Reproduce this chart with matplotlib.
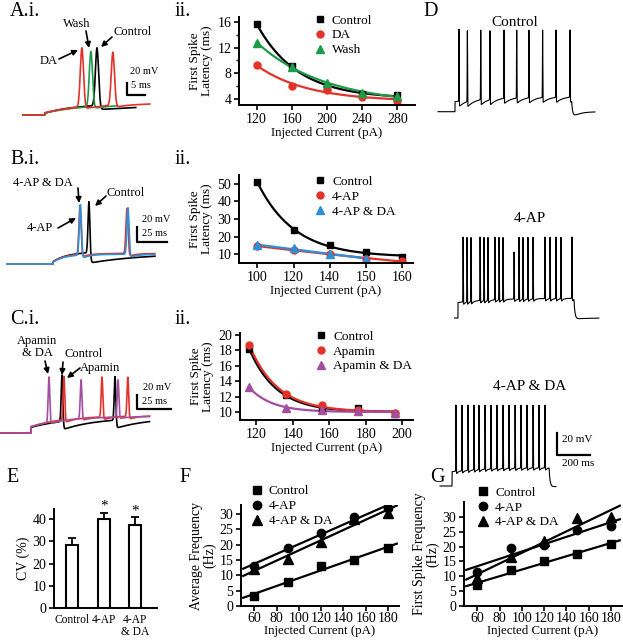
import numpy as np
import matplotlib
matplotlib.use("Agg")
import matplotlib.pyplot as plt

W, H = 623, 640
plt.rcParams['font.family'] = ['Liberation Serif', 'DejaVu Serif']

# ---- panel A.ii : first spike latency (ms) vs injected current (pA)
a_current = [120, 160, 200, 240, 280]
a_control = [15.7, 9.1, 5.9, 4.8, 4.5]
a_da = [9.3, 6.0, 5.4, 4.3, 3.7]
a_wash = [12.8, 9.0, 6.5, 4.9, 4.4]

# ---- panel B.ii (x axis labelled at evenly spaced positions)
b_labels = ['100', '120', '140', '150', '160']
b_control = [51, 23.5, 15.5, 11, 8.5]
b_4ap = [14.5, 12.5, 10, 7.5, 6]
b_4ap_da = [15, 13.5, 10, 7.5]

# ---- panel C.ii
c_current = [116, 136, 156, 176, 196]
c_control = [18.2, 12.2, 10.4, 10.6, 9.8]
c_apamin = [18.7, 12.3, 10.9, 10.3, 9.9]
c_apamin_da = [13.2, 10.6, 10.3, 10.1, 9.9]

# ---- panel E : CV (%)
e_labels = ['Control', '4-AP', '4-AP\n& DA']
e_cv = [28.5, 40, 37.5]
e_err = [3, 3, 3.3]

# ---- panels F and G : frequency (Hz) vs injected current (pA)
fg_current = [60, 90, 120, 150, 180]
f_control = [3.3, 8, 13, 15, 19]
f_4ap = [13, 19, 24, 29, 32]
f_4ap_da = [12, 15.5, 21, 28.5, 30.5]
g_control = [7, 12, 15, 17.5, 21]
g_4ap = [11.5, 19.5, 20.5, 25.5, 27]
g_4ap_da = [9.5, 16.5, 22, 29.5, 30]

# ---- example traces: spike times (ms) and peaks (mV)
ai_control_spikes, ai_control_peaks = [21.4], [42]
ai_da_spikes, ai_da_peaks = [17.2, 25.8], [42, 35]
ai_wash_spikes, ai_wash_peaks = [19.7], [36]

bi_control_spikes, bi_control_peaks = [70], [13]
bi_4ap_spikes, bi_4ap_peaks = [62.5, 101.7], [8, 4]
bi_4ap_da_spikes, bi_4ap_da_peaks = [62.8, 102.5], [9, 5]

ci_control_spikes, ci_control_peaks = [45.6, 84.6], [13, 13]
ci_apamin_spikes, ci_apamin_peaks = [47, 75, 94], [11, 10, 10]
ci_apamin_da_spikes, ci_apamin_da_peaks = [36, 59.6, 86.8], [10, 6, 6]

d_control_spikes = [127, 178, 259, 315, 400, 477, 551, 634, 715, 800]
d_4ap_spikes = [152, 176, 200, 255, 279, 303, 345, 370, 394, 461, 491, 515,
                545, 576, 648, 679, 715, 745, 812]
d_4ap_da_spikes = [97, 133, 170, 206, 236, 273, 309, 345, 382, 418, 455, 491,
                   527, 564, 600, 636]

RED = '#e2332a'
GREEN = '#1d9b4a'
BLUE = '#2f8fd6'
PURPLE = '#a24fa0'

fig = plt.figure(figsize=(W / 100, H / 100), dpi=100)


def px_axes(x0, y0, x1, y1):
    """Axes placed by pixel box (top-left origin)."""
    return fig.add_axes([x0 / W, 1 - y1 / H, (x1 - x0) / W, (y1 - y0) / H])


def trace_axes(rect, x_t0, px_ms, y_v70, px_mv):
    x0, y0, x1, y1 = rect
    ax = px_axes(*rect)
    ax.set_xlim((x0 - x_t0) / px_ms, (x1 - x_t0) / px_ms)
    ax.set_ylim(-70 + (y_v70 - y1) / px_mv, -70 + (y_v70 - y0) / px_mv)
    ax.axis('off')
    return ax


def make_trace(t, t_on, t_off, v_hold, v_ramp, tau, spikes, peaks, width, ahp, ahp_tau):
    base = np.full(t.shape, -70.0)
    on = (t >= t_on) & (t < t_off)
    base[on] = v_hold + (v_ramp - v_hold) * (1 - np.exp(-(t[on] - t_on) / tau))
    off = t >= t_off
    if off.any():
        v_last = v_hold + (v_ramp - v_hold) * (1 - np.exp(-(t_off - t_on) / tau))
        d = t[off] - t_off
        base[off] = -70 + (v_last + 70) * np.exp(-d / 6) - 1.0 * (1 - np.exp(-d / 6)) * np.exp(-d / 60)
    v = base.copy()
    for s, p in zip(spikes, peaks):
        b = np.interp(s, t, base)
        v += (p - b) * np.exp(-0.5 * ((t - s) / width) ** 2)
        d = t - s
        post = d > 0
        v[post] -= ahp * (1 - np.exp(-d[post] / width)) * np.exp(-d[post] / ahp_tau)
    return v


def exp_fit(x, y, xs):
    x = np.asarray(x, float)
    y = np.asarray(y, float)
    span = x.max() - x.min()
    best = (np.inf, None, None)
    for tau in np.geomspace(0.02, 50, 600) * span:
        A = np.column_stack([np.exp(-(x - x[0]) / tau), np.ones_like(x)])
        coef = np.linalg.lstsq(A, y, rcond=None)[0]
        err = np.sum((A @ coef - y) ** 2)
        if err < best[0]:
            best = (err, tau, coef)
    _, tau, coef = best
    return coef[0] * np.exp(-(xs - x[0]) / tau) + coef[1]


def style(ax):
    for s in ['top', 'right']:
        ax.spines[s].set_visible(False)
    for s in ['left', 'bottom']:
        ax.spines[s].set_linewidth(1.4)
    ax.tick_params(width=1.2, length=3.5, labelsize=10, pad=2)
    ax.tick_params(which='minor', width=1.0, length=2)


def legend(ax, x, y):
    ax.legend(loc='upper left', bbox_to_anchor=(x, y), frameon=False, fontsize=9.5,
              handlelength=0.8, handletextpad=0.5, labelspacing=0.2,
              borderpad=0, borderaxespad=0)


# ================= A.i traces
ax = trace_axes((10, 40, 165, 125), 20, 3.6, 115, 0.6)
t = np.arange(0.8, 32.2, 0.05)
ax.plot(t, make_trace(t, 6.9, 1e9, -67, -52, 8, ai_control_spikes, ai_control_peaks, 0.45, 7, 30), color='k', lw=1.2)
t = np.arange(0.8, 27, 0.05)
ax.plot(t, make_trace(t, 6.9, 1e9, -67, -52, 10, ai_wash_spikes, ai_wash_peaks, 0.45, 4, 4), color=GREEN, lw=1.2)
t = np.arange(0.8, 36.1, 0.05)
ax.plot(t, make_trace(t, 6.9, 1e9, -66, -50, 12, ai_da_spikes, ai_da_peaks, 0.45, 4, 4), color=RED, lw=1.2)

# ================= B.i traces
ax = trace_axes((0, 195, 165, 270), 5, 1.2, 264, 0.75)
t = np.arange(39.5, 125, 0.1)
ax.plot(t, make_trace(t, 40, 1e9, -67, -54, 12, bi_control_spikes, bi_control_peaks, 0.8, 14, 60), color='k', lw=1.2)
t = np.arange(1.7, 125, 0.1)
ax.plot(t, make_trace(t, 40, 1e9, -67, -56, 10, bi_4ap_spikes, bi_4ap_peaks, 0.9, 5, 6), color=RED, lw=1.2)
ax.plot(t, make_trace(t, 40, 1e9, -67.5, -57, 10, bi_4ap_da_spikes, bi_4ap_da_peaks, 0.9, 6, 6), color=BLUE, lw=1.2)

# ================= C.i traces
ax = trace_axes((0, 365, 175, 440), 0, 1.36, 433, 0.7)
t = np.arange(0, 110, 0.1)
ax.plot(t, make_trace(t, 22.8, 1e9, -62, -48, 25, ci_control_spikes, ci_control_peaks, 0.6, 12, 25), color='k', lw=1.2)
ax.plot(t, make_trace(t, 22.8, 1e9, -61, -45, 25, ci_apamin_spikes, ci_apamin_peaks, 0.6, 5, 6), color=RED, lw=1.2)
ax.plot(t, make_trace(t, 22.8, 1e9, -61, -46, 25, ci_apamin_da_spikes, ci_apamin_da_peaks, 0.6, 3, 5), color=PURPLE, lw=1.2)

# ================= D traces
t = np.arange(0, 951, 0.25)
ax = trace_axes((432, 25, 602, 120), 438, 0.165, 111.7, 1.1)
ax.plot(t, make_trace(t, 103, 810, -61, -56, 200, d_control_spikes, [5] * len(d_control_spikes), 1.0, 5, 40), color='k', lw=0.8)
ax = trace_axes((432, 228, 602, 325), 438, 0.165, 318, 1.1)
t = np.arange(100, 975, 0.25)
peaks = [3.6] * len(d_4ap_spikes)
peaks[9] = -10
ax.plot(t, make_trace(t, 121, 824, -56, -52, 200, d_4ap_spikes, peaks, 1.0, 3, 12), color='k', lw=0.8)
ax = trace_axes((432, 395, 602, 492), 440, 0.165, 486, 1.1)
t = np.arange(0, 703, 0.25)
ax.plot(t, make_trace(t, 73, 661, -57, -53, 200, d_4ap_da_spikes, [3.6] * len(d_4ap_da_spikes), 1.0, 3, 12), color='k', lw=0.8)

# ================= A.ii
ax = px_axes(239, 17, 415, 105)
style(ax)
xs = np.linspace(120, 280, 200)
ax.plot(xs, exp_fit(a_current, a_control, xs), color='k', lw=1.6)
ax.plot(xs, exp_fit(a_current, a_da, xs), color=RED, lw=1.6)
ax.plot(xs, exp_fit(a_current, a_wash, xs), color=GREEN, lw=1.6)
ax.plot(a_current, a_control, 's', color='k', ms=4.5, label='Control')
ax.plot(a_current, a_da, 'o', color=RED, ms=5, label='DA')
ax.plot(a_current, a_wash, '^', color=GREEN, ms=5.5, label='Wash')
ax.set_xlim(100, 300)
ax.set_ylim(3, 16.8)
ax.set_xticks([120, 160, 200, 240, 280])
ax.set_yticks([4, 8, 12, 16])
ax.set_yticks([6, 10, 14], minor=True)
ax.set_xlabel('Injected Current (pA)', fontsize=9.3, labelpad=1)
ax.set_ylabel('First Spike\nLatency (ms)', fontsize=9.5, labelpad=3, linespacing=1.0)
legend(ax, 0.43, 1.03)

# ================= B.ii
ax = px_axes(239, 175, 413, 263)
style(ax)
pos = np.arange(len(b_labels))
xs = np.linspace(0, 4, 200)
ax.plot(xs, exp_fit(pos, b_control, xs), color='k', lw=1.6)
ax.plot(xs, exp_fit(pos, b_4ap, xs), color=RED, lw=1.6)
xs = np.linspace(0, 3, 150)
ax.plot(xs, exp_fit(pos[:4], b_4ap_da, xs), color=BLUE, lw=1.6)
ax.plot(pos, b_control, 's', color='k', ms=4.5, label='Control')
ax.plot(pos, b_4ap, 'o', color=RED, ms=5, label='4-AP')
ax.plot(pos[:4], b_4ap_da, '^', color=BLUE, ms=5.5, label='4-AP & DA')
ax.set_xlim(-0.51, 4.31)
ax.set_ylim(5, 55)
ax.set_xticks(pos)
ax.set_xticklabels(b_labels)
ax.set_yticks([10, 20, 30, 40, 50])
ax.set_xlabel('Injected Current (pA)', fontsize=9.3, labelpad=1)
ax.set_ylabel('First Spike\nLatency (ms)', fontsize=9.5, labelpad=3, linespacing=1.0)
legend(ax, 0.437, 0.99)

# ================= C.ii
ax = px_axes(240, 333, 413, 420)
style(ax)
xs = np.linspace(116, 196, 200)
ax.plot(xs, exp_fit(c_current, c_control, xs), color='k', lw=1.6)
ax.plot(xs, exp_fit(c_current, c_apamin, xs), color=RED, lw=1.6)
ax.plot(xs, exp_fit(c_current, c_apamin_da, xs), color=PURPLE, lw=1.6)
ax.plot(c_current, c_control, 's', color='k', ms=4.5, label='Control')
ax.plot(c_current, c_apamin, 'o', color=RED, ms=5, label='Apamin')
ax.plot(c_current, c_apamin_da, '^', color=PURPLE, ms=5.5, label='Apamin & DA')
ax.set_xlim(111, 206)
ax.set_ylim(9, 20.2)
ax.set_xticks([120, 140, 160, 180, 200])
ax.set_yticks([10, 12, 14, 16, 18, 20])
ax.set_xlabel('Injected Current (pA)', fontsize=9.3, labelpad=1)
ax.set_ylabel('First Spike\nLatency (ms)', fontsize=9.5, labelpad=3, linespacing=1.0)
legend(ax, 0.44, 1.03)

# ================= E
ax = px_axes(54, 509, 157, 608)
style(ax)
pos = np.arange(len(e_labels))
ax.bar(pos, e_cv, width=0.38, color='white', edgecolor='black', lw=1.5)
ax.errorbar(pos, e_cv, yerr=[np.zeros(len(e_cv)), e_err], fmt='none', ecolor='k',
            elinewidth=1.3, capsize=3, capthick=1.3)
for i in [1, 2]:
    ax.text(pos[i], e_cv[i] + e_err[i], '*', ha='center', va='bottom', fontsize=11, clip_on=False)
ax.set_xlim(-0.56, 2.68)
ax.set_ylim(0, 44.6)
ax.set_xticks(pos)
ax.set_xticklabels(e_labels, fontsize=8.3, linespacing=1.1)
ax.tick_params(axis='x', length=0, pad=4)
ax.set_yticks([0, 10, 20, 30, 40])
ax.set_ylabel('CV (%)', fontsize=10, labelpad=2)

# ================= F and G
for rect, ylim, ser, ylabel, lx, ly in [
        ((241, 505, 399, 606), 33, (f_control, f_4ap, f_4ap_da), 'Average Frequency\n(Hz)', 0.068, 1.196),
        ((464, 502, 622, 606), 35, (g_control, g_4ap, g_4ap_da), 'First Spike Frequency\n(Hz)', 0.089, 1.15)]:
    ax = px_axes(*rect)
    style(ax)
    ax.tick_params(axis='x', pad=1)
    xs = np.array([50, 188])
    for vals in ser:
        k, b = np.polyfit(fg_current, vals, 1)
        ax.plot(xs, k * xs + b, color='k', lw=1.6)
    ax.plot(fg_current, ser[0], 's', color='k', ms=5.5, label='Control')
    ax.plot(fg_current, ser[1], 'o', color='k', ms=6, label='4-AP')
    ax.plot(fg_current, ser[2], '^', color='k', ms=6.5, label='4-AP & DA')
    ax.set_xlim(48, 190)
    ax.set_ylim(0, ylim)
    ax.set_xticks([60, 80, 100, 120, 140, 160, 180])
    ax.set_yticks([0, 5, 10, 15, 20, 25, 30])
    ax.set_xlabel('Injected Current (pA)', fontsize=9.3, labelpad=0)
    ax.set_ylabel(ylabel, fontsize=10, labelpad=2, linespacing=1.0)
    legend(ax, lx, ly)

# ================= overlay: panel letters, annotations, scale bars
ov = fig.add_axes([0, 0, 1, 1])
ov.set_xlim(0, W)
ov.set_ylim(H, 0)
ov.axis('off')
ov.patch.set_alpha(0)

for s, x, y in [('A.i.', 25, 11), ('ii.', 183, 11), ('B.i.', 25, 160), ('ii.', 183, 160),
                ('C.i.', 25, 320), ('ii.', 183, 320), ('D', 431, 12),
                ('E', 13, 478), ('F', 185, 478), ('G', 437, 477)]:
    ov.text(x, y, s, fontsize=14.5, ha='center', va='center')

arrow = dict(arrowstyle='-|>', lw=1.2, color='k', mutation_scale=8, shrinkA=0, shrinkB=0)
for s, (tx, ty), (ax0, ay0), (ax1, ay1) in [
        ('DA', (49, 61), (59, 59), (78, 50)),
        ('Wash', (77, 24), (86, 31), (89, 48)),
        ('Control', (133, 32), (112, 37), (101, 47)),
        ('4-AP & DA', (43, 183), (78, 188), (79, 203)),
        ('Control', (126, 193), (106, 196), (95, 206)),
        ('4-AP', (40, 228), (58, 228), (76, 218)),
        ('Apamin\n& DA', (37, 347), (45, 361), (48, 374)),
        ('Control', (84, 354), (63, 362), (62, 375)),
        ('Apamin', (100, 368), (80, 368), (67, 378))]:
    ov.text(tx, ty, s, fontsize=9, ha='center', va='center', linespacing=1.0)
    ov.annotate('', xy=(ax1, ay1), xytext=(ax0, ay0), arrowprops=arrow)

for (cx, cy), v_len, h_len in [
        ((127, 95), 20 * 0.6, 5 * 3.6),
        ((137, 242), 20 * 0.75, 25 * 1.2),
        ((137, 409), 20 * 0.7, 25 * 1.36),
        ((557, 455), 20 * 1.1, 200 * 0.165)]:
    ov.plot([cx, cx, cx + h_len], [cy - v_len, cy, cy], color='k', lw=1.6)
ov.text(130, 72, '20 mV', fontsize=7.5, va='center')
ov.text(131, 85, '5 ms', fontsize=7.5, va='center')
ov.text(142, 220, '20 mV', fontsize=7.5, va='center')
ov.text(142, 234, '25 ms', fontsize=7.5, va='center')
ov.text(143, 388, '20 mV', fontsize=7.5, va='center')
ov.text(142, 401, '25 ms', fontsize=7.5, va='center')
ov.text(562, 440, '20 mV', fontsize=8, va='center')
ov.text(562, 464, '200 ms', fontsize=8, va='center')

ov.text(515, 22, 'Control', fontsize=11, ha='center', va='center')
ov.text(530, 218, '4-AP', fontsize=11, ha='center', va='center')
ov.text(530, 387, '4-AP & DA', fontsize=11, ha='center', va='center')

fig.savefig('out.png', dpi=100)
